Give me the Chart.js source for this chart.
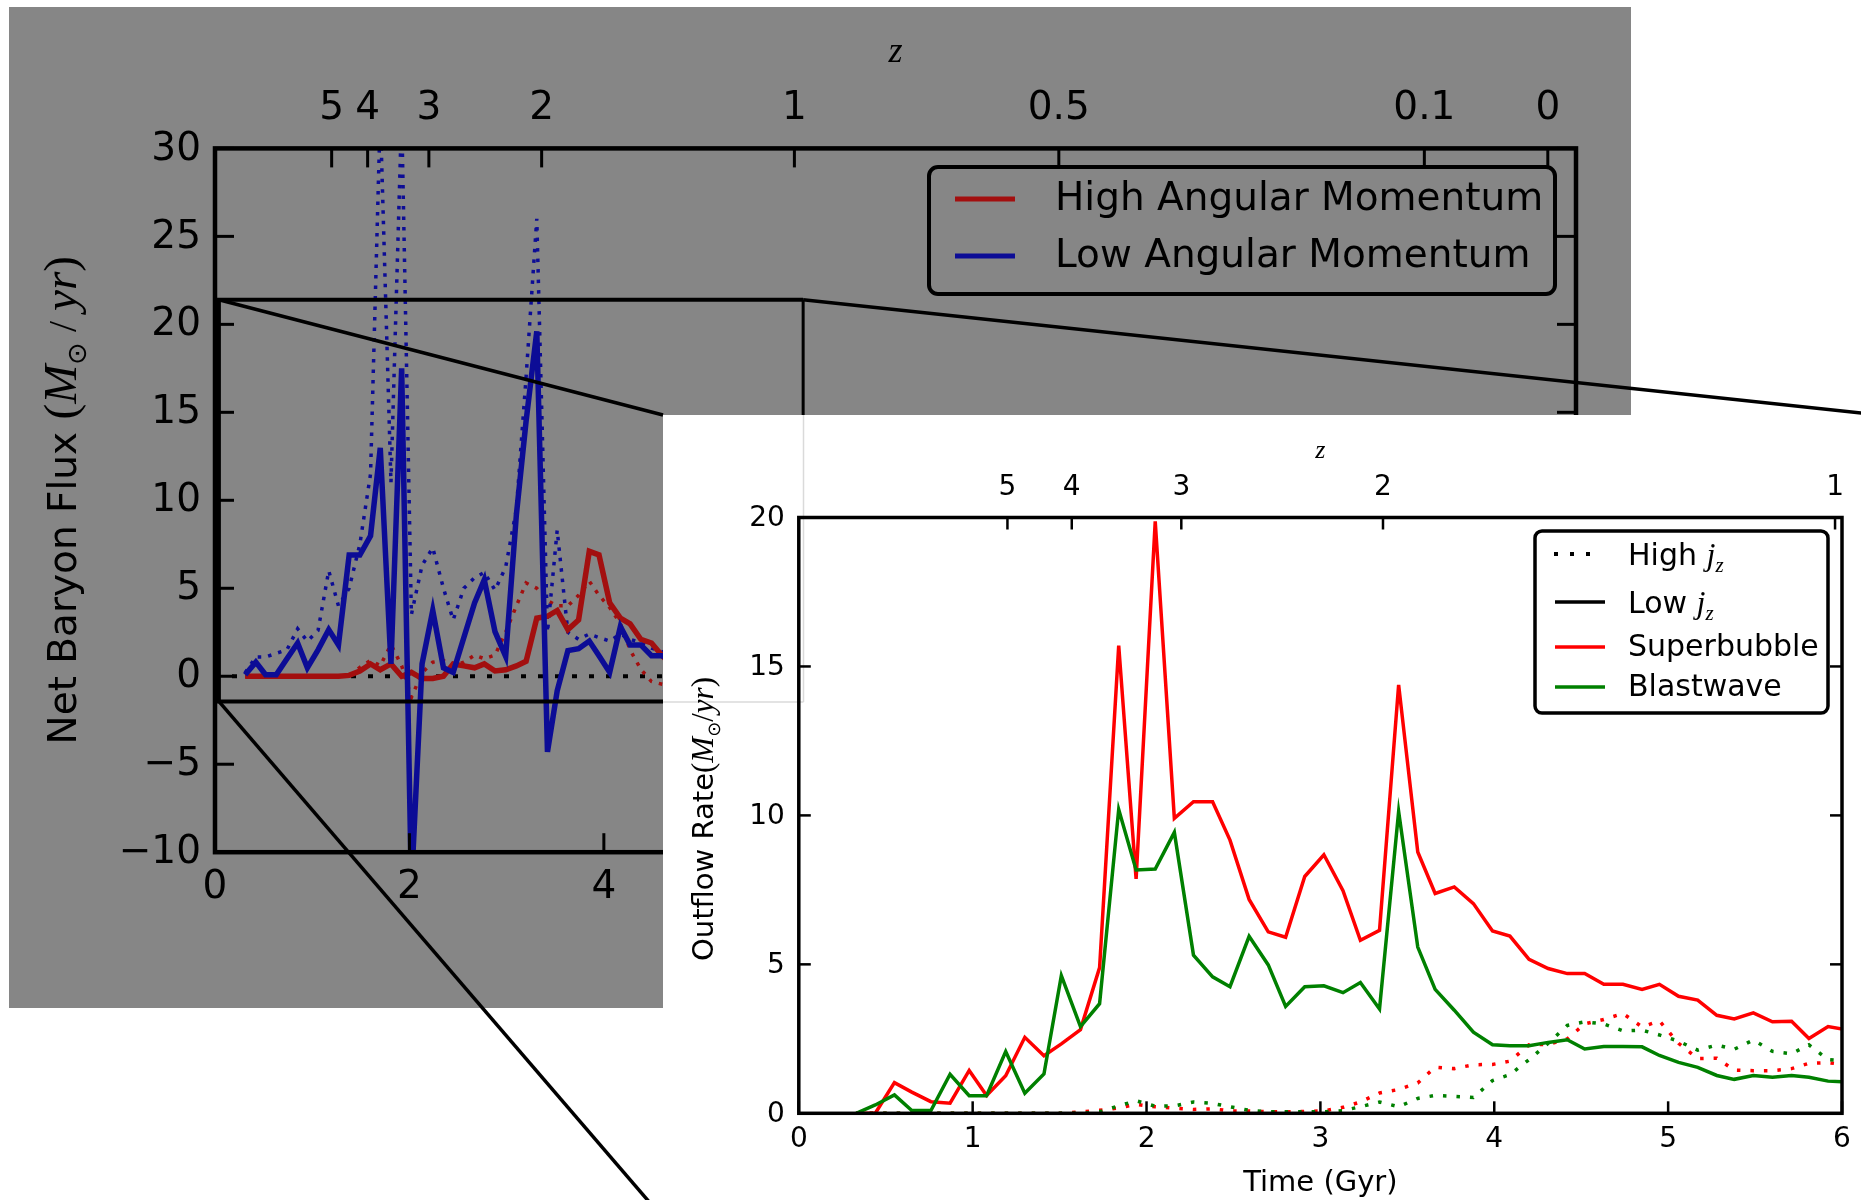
<!DOCTYPE html>
<html><head><meta charset="utf-8">
<script src="https://cdn.jsdelivr.net/npm/chart.js@4.4.1/dist/chart.umd.min.js"></script>
<style>
html,body{margin:0;padding:0;background:#fff;}
body{width:1861px;height:1200px;position:relative;overflow:hidden;}
#mainWrap{position:absolute;left:0;top:0;width:1861px;height:1200px;}
#insetWrap{position:absolute;left:663px;top:415px;width:1198px;height:785px;background:#fff;}
canvas{display:block;}
</style></head><body>
<div id="mainWrap"><canvas id="mainChart" width="1861" height="1200"></canvas></div>
<div id="insetWrap"><canvas id="insetChart" width="1198" height="785"></canvas></div>
<script>
// ---------------- DATA ----------------
// redshift axis (shared)
const zLabels = ['5','4','3','2','1','0.5','0.1','0'];
const zTimes  = [1.20, 1.57, 2.20, 3.36, 5.96, 8.68, 12.44, 13.71];

// main (background) chart: Net Baryon Flux
const mainYTicks = [30, 25, 20, 15, 10, 5, 0, -5, -10];
const mainXTicks = [0, 2, 4, 6, 8, 10, 12, 14];
const mainTime = [0.31,0.42,0.52,0.63,0.74,0.85,0.95,1.06,1.17,1.27,1.38,1.49,1.60,1.70,1.81,1.92,2.02,2.13,2.24,2.35,2.45,2.56,2.67,2.77,2.88,2.99,3.10,3.20,3.31,3.42,3.52,3.63,3.74,3.85,3.95,4.06,4.17,4.27,4.38,4.49,4.60,4.70];
const lowSolid  = [0.09,0.8,0.09,0.09,1.0,1.89,0.48,1.5,2.65,1.78,6.89,6.89,7.98,12.98,0.7,17.5,-12,0.7,3.74,0.48,0.22,2.2,4.17,5.48,2.54,1.13,9.17,14.5,19.6,-4.3,-0.83,1.46,1.57,2.0,1.17,0.22,2.83,1.78,1.78,1.17,1.17,0.9];
const lowDotted = [0.2,1.1,1.1,1.3,1.5,2.7,2.0,2.6,6.0,4.0,5.0,7.5,11.5,32,11,32,3.5,6.3,7.3,5.0,3.2,5.0,5.6,5.9,4.9,6.2,9.5,17,26,2.5,8.3,2.5,2.1,2.4,2.2,2.0,2.4,2.1,1.9,1.6,1.4,1.2];
const highSolid = [0,0,0,0,0,0,0,0,0,0,0.05,0.3,0.7,0.37,0.7,0,0.22,-0.13,-0.13,0,0.7,0.59,0.48,0.7,0.3,0.37,0.59,0.85,3.3,3.41,3.74,2.65,3.2,7.1,6.9,4.17,3.3,2.98,2.1,1.89,1.17,0.6];
const highDotted= [0,0,0,0,0,0,0,0,0,0,0,0.5,0.9,0.6,1.8,0.6,-1.2,0.2,0.8,0.9,0.6,0.8,1.2,1.0,1.2,2.5,4.0,5.3,5.0,4.3,4.0,4.0,4.6,5.4,4.6,3.9,3.0,1.5,0.4,-0.3,-0.45,-0.5];
const zeroLineX = [0, 14];
const zeroLineY = [0, 0];

// inset chart: Outflow Rate
const insetYTicks = [0, 5, 10, 15, 20];
const insetXTicks = [0, 1, 2, 3, 4, 5, 6];
const insetTime = [0.33,0.44,0.55,0.65,0.76,0.87,0.98,1.08,1.19,1.30,1.41,1.51,1.62,1.73,1.84,1.94,2.05,2.16,2.27,2.38,2.48,2.59,2.70,2.80,2.91,3.02,3.13,3.23,3.34,3.45,3.56,3.66,3.77,3.88,3.99,4.09,4.20,4.31,4.42,4.52,4.63,4.74,4.85,4.95,5.06,5.17,5.28,5.38,5.49,5.60,5.71,5.81,5.92,6.03];
const superbubbleLow = [0,0,1.03,0.71,0.39,0.34,1.44,0.6,1.26,2.55,1.93,2.33,2.81,4.89,15.7,7.87,19.87,9.9,10.46,10.46,9.17,7.18,6.09,5.91,7.95,8.68,7.47,5.81,6.14,14.38,8.77,7.38,7.6,7.04,6.12,5.95,5.17,4.86,4.69,4.69,4.33,4.33,4.16,4.33,3.93,3.8,3.29,3.17,3.37,3.07,3.09,2.51,2.91,2.8];
const blastwaveLow   = [0,0.28,0.62,0.09,0.09,1.31,0.59,0.59,2.07,0.67,1.32,4.62,2.91,3.68,10.2,8.17,8.2,9.43,5.31,4.58,4.25,5.94,4.98,3.59,4.25,4.28,4.05,4.39,3.5,10.13,5.58,4.16,3.46,2.72,2.3,2.27,2.27,2.38,2.47,2.16,2.24,2.24,2.23,1.94,1.71,1.54,1.27,1.14,1.27,1.21,1.27,1.21,1.08,1.05];
const superbubbleHigh= [0,0,0,0,0,0,0,0,0,0,0,0,0.05,0.1,0.18,0.3,0.22,0.17,0.13,0.15,0.08,0.08,0.05,0.05,0.06,0.08,0.2,0.38,0.68,0.8,1.02,1.55,1.5,1.63,1.64,1.75,2.3,2.31,2.5,3.0,3.15,3.35,2.9,3.1,2.35,1.84,1.85,1.45,1.43,1.43,1.5,1.68,1.7,1.62];
const blastwaveHigh  = [0,0,0,0,0,0,0,0,0,0,0,0,0,0.05,0.25,0.42,0.24,0.25,0.38,0.33,0.22,0.1,0.05,0.05,0.05,0.05,0.09,0.22,0.38,0.22,0.5,0.6,0.57,0.53,1.1,1.3,1.8,2.35,2.95,3.07,3.0,2.77,2.79,2.63,2.42,2.12,2.29,2.15,2.46,2.08,2.0,2.3,1.8,1.75];

// zoom region of the inset, in main-chart data units
const zoomBox = {x0: 0.04, x1: 6.05, y0: -1.43, y1: 21.4};

// ---------------- STYLE / LAYOUT ----------------
const W = 1861, H = 1200;
const GRAY = '#868686';
const MAIN_RED = '#a30f0f', MAIN_BLUE = '#0c0c96';
const SB_RED = '#ff0000', BW_GREEN = '#008000';
const MAIN_AREA = {left: 215, top: 148.4, right: 1576, bottom: 852.2};
const INSET_W = 1198, INSET_H = 785;
const INSET_AREA = {left: 135.8, top: 102.5, right: 1179, bottom: 698.3};
const INSET_CORNERS = {tl: [663, 415], tr: [1880, 415], bl: [663, 1218]};

function pts(xs, ys){ return xs.map((x, i) => ({x: x, y: ys[i]})); }
function seg(c, x1, y1, x2, y2){ c.beginPath(); c.moveTo(x1, y1); c.lineTo(x2, y2); c.stroke(); }
function txt(c, t, x, y, font, align, base){
  c.save(); c.font = font; c.textAlign = align; c.textBaseline = base; c.fillStyle = '#000'; c.fillText(t, x, y); c.restore();
}
function rich(c, segs, x, y, opt){
  opt = opt || {};
  c.save(); c.translate(x, y); if (opt.rot) c.rotate(opt.rot);
  c.textAlign = 'left'; c.textBaseline = 'alphabetic'; c.fillStyle = '#000';
  let w = 0; segs.forEach(s => { c.font = s.f; w += c.measureText(s.t).width; });
  let cx = opt.align === 'left' ? 0 : -w / 2;
  segs.forEach(s => { c.font = s.f; c.fillText(s.t, cx, (opt.base || 0) + (s.dy || 0)); cx += c.measureText(s.t).width; });
  c.restore();
}
function fmt(v){ return v < 0 ? '\u2212' + Math.abs(v) : String(v); }

// ---------------- MAIN CHART ----------------
const MAIN_TICK_FONT = '39px "DejaVu Sans"';
const mainDecor = {
  id: 'mainDecor',
  beforeDraw(chart){
    const c = chart.ctx;
    c.save(); c.fillStyle = '#fff'; c.fillRect(0, 0, chart.width, chart.height);
    c.fillStyle = GRAY; c.fillRect(9, 7, 1622, 1001); c.restore();
  },
  afterDatasetsDraw(chart){
    const c = chart.ctx, xs = chart.scales.x, ys = chart.scales.y, a = chart.chartArea;
    c.save(); c.strokeStyle = '#000'; c.lineCap = 'butt';
    c.lineWidth = 3;
    mainYTicks.forEach(v => {
      const p = ys.getPixelForValue(v);
      seg(c, a.left, p, a.left + 19, p); seg(c, a.right, p, a.right - 19, p);
      txt(c, fmt(v), a.left - 14, p + 1, MAIN_TICK_FONT, 'right', 'middle');
    });
    mainXTicks.forEach(v => {
      const p = xs.getPixelForValue(v);
      seg(c, p, a.bottom, p, a.bottom - 19);
      txt(c, String(v), p, a.bottom + 36, MAIN_TICK_FONT, 'center', 'middle');
    });
    zTimes.forEach((t, i) => {
      const p = xs.getPixelForValue(t);
      seg(c, p, a.top, p, a.top + 19);
      txt(c, zLabels[i], p, a.top - 40, MAIN_TICK_FONT, 'center', 'middle');
    });
    c.lineWidth = 4.5; c.strokeRect(a.left, a.top, a.right - a.left, a.bottom - a.top);
    // axis titles
    txt(c, 'z', (a.left + a.right) / 2, 53, 'italic 36px "Liberation Serif"', 'center', 'middle');
    rich(c, [
      {t: 'Net Baryon Flux ', f: '39px "DejaVu Sans"'},
      {t: '(', f: '47px "Liberation Serif"'},
      {t: 'M', f: 'italic 47px "Liberation Serif"'},
      {t: '\u2299', f: '27px "DejaVu Sans"', dy: 10},
      {t: ' / ', f: '40px "Liberation Serif"'},
      {t: 'yr', f: 'italic 47px "Liberation Serif"'},
      {t: ')', f: '47px "Liberation Serif"'}
    ], 62, (a.top + a.bottom) / 2, {rot: -Math.PI / 2, base: 14});
    // legend
    const L = {x: 929, y: 167, w: 626, h: 127};
    c.beginPath(); c.roundRect(L.x, L.y, L.w, L.h, 9); c.fillStyle = GRAY; c.fill();
    c.lineWidth = 4; c.strokeStyle = '#000'; c.stroke();
    const items = [{label: 'High Angular Momentum', color: MAIN_RED, y: 199}, {label: 'Low Angular Momentum', color: MAIN_BLUE, y: 256}];
    items.forEach(it => {
      c.strokeStyle = it.color; c.lineWidth = 5; seg(c, 955, it.y, 1015, it.y);
      txt(c, it.label, 1055, it.y + 1, '39px "DejaVu Sans"', 'left', 'middle');
    });
    c.restore();
  },
  afterDraw(chart){
    const c = chart.ctx, xs = chart.scales.x, ys = chart.scales.y;
    const L = xs.getPixelForValue(zoomBox.x0), R = xs.getPixelForValue(zoomBox.x1);
    const T = ys.getPixelForValue(zoomBox.y1), B = ys.getPixelForValue(zoomBox.y0);
    c.save(); c.strokeStyle = '#000'; c.lineCap = 'butt';
    c.lineWidth = 4;
    seg(c, L - 2, T, R, T); seg(c, L, T, L, B); seg(c, L - 2, B, R, B);
    c.lineWidth = 3; seg(c, R, T, R, B);
    c.lineWidth = 3.5;
    seg(c, L, T, INSET_CORNERS.tl[0], INSET_CORNERS.tl[1]);
    seg(c, R, T, INSET_CORNERS.tr[0], INSET_CORNERS.tr[1]);
    seg(c, L, B, INSET_CORNERS.bl[0], INSET_CORNERS.bl[1]);
    c.restore();
  }
};

new Chart(document.getElementById('mainChart'), {
  type: 'line',
  data: {datasets: [
    {data: pts(mainTime, lowSolid), borderColor: MAIN_BLUE, borderWidth: 5.5},
    {data: pts(mainTime, highSolid), borderColor: MAIN_RED, borderWidth: 5.5},
    {data: pts(mainTime, lowDotted), borderColor: MAIN_BLUE, borderWidth: 3.5, borderDash: [3.5, 7]},
    {data: pts(mainTime, highDotted), borderColor: MAIN_RED, borderWidth: 3.5, borderDash: [3.5, 7]},
    {data: pts(zeroLineX, zeroLineY), borderColor: '#000', borderWidth: 4, borderDash: [5, 12]}
  ].map(d => Object.assign({pointRadius: 0, tension: 0, fill: false}, d))},
  options: {
    responsive: false, animation: false, devicePixelRatio: 1,
    layout: {padding: {left: MAIN_AREA.left, top: MAIN_AREA.top, right: W - MAIN_AREA.right, bottom: H - MAIN_AREA.bottom}},
    plugins: {legend: {display: false}, tooltip: {enabled: false}},
    scales: {
      x: {type: 'linear', min: 0, max: 14, display: false},
      y: {type: 'linear', min: -10, max: 30, display: false}
    }
  },
  plugins: [mainDecor]
});

// ---------------- INSET CHART ----------------
const IN_TICK_FONT = '28px "DejaVu Sans"';
const insetDecor = {
  id: 'insetDecor',
  beforeDraw(chart){
    const c = chart.ctx;
    c.save(); c.fillStyle = '#fff'; c.fillRect(0, 0, chart.width, chart.height);
    // faint bleed of the zoom box edges
    c.strokeStyle = '#dadada'; c.lineWidth = 1.5;
    seg(c, 140.5, 0, 140.5, 287); seg(c, 0, 287, 140.5, 287);
    c.restore();
  },
  afterDatasetsDraw(chart){
    const c = chart.ctx, xs = chart.scales.x, ys = chart.scales.y, a = chart.chartArea;
    c.save(); c.strokeStyle = '#000'; c.lineWidth = 2.5;
    insetYTicks.forEach(v => {
      const p = ys.getPixelForValue(v);
      seg(c, a.left, p, a.left + 12, p); seg(c, a.right, p, a.right - 12, p);
      txt(c, String(v), a.left - 14, p + 1, IN_TICK_FONT, 'right', 'middle');
    });
    insetXTicks.forEach(v => {
      const p = xs.getPixelForValue(v);
      seg(c, p, a.bottom, p, a.bottom - 12);
      txt(c, String(v), p, a.bottom + 26, IN_TICK_FONT, 'center', 'middle');
    });
    zTimes.forEach((t, i) => {
      if (t > 6) return;
      const p = xs.getPixelForValue(t);
      seg(c, p, a.top, p, a.top + 12);
      txt(c, zLabels[i], p, a.top - 30, IN_TICK_FONT, 'center', 'middle');
    });
    c.lineWidth = 3.5; c.strokeRect(a.left, a.top, a.right - a.left, a.bottom - a.top);
    // titles
    const cx = (a.left + a.right) / 2;
    txt(c, 'z', cx, 36, 'italic 26px "Liberation Serif"', 'center', 'middle');
    txt(c, 'Time (Gyr)', cx, 768, '29px "DejaVu Sans"', 'center', 'middle');
    rich(c, [
      {t: 'Outflow Rate', f: '29px "DejaVu Sans"'},
      {t: '(', f: '31px "Liberation Serif"'},
      {t: 'M', f: 'italic 31px "Liberation Serif"'},
      {t: '\u2299', f: '18px "DejaVu Sans"', dy: 7},
      {t: '/', f: '31px "Liberation Serif"'},
      {t: 'yr', f: 'italic 31px "Liberation Serif"'},
      {t: ')', f: '31px "Liberation Serif"'}
    ], 39.6, 404, {rot: -Math.PI / 2, base: 10});
    // legend
    c.beginPath(); c.roundRect(872, 116, 293, 182, 7); c.fillStyle = '#fff'; c.fill();
    c.lineWidth = 3.5; c.strokeStyle = '#000'; c.stroke();
    c.fillStyle = '#000';
    [893, 909, 925].forEach(x => c.fillRect(x - 2, 139 - 2, 4, 4));
    c.lineWidth = 3.5;
    c.strokeStyle = '#000'; seg(c, 892, 187, 942, 187);
    c.strokeStyle = SB_RED; seg(c, 892, 232, 942, 232);
    c.strokeStyle = BW_GREEN; seg(c, 892, 272, 942, 272);
    const jz = (label, y) => rich(c, [
      {t: label, f: '30px "DejaVu Sans"'},
      {t: 'j', f: 'italic 32px "Liberation Serif"'},
      {t: 'z', f: 'italic 21px "Liberation Serif"', dy: 7}
    ], 965, y, {align: 'left', base: 0});
    jz('High ', 139 + 11);
    jz('Low ', 187 + 11);
    txt(c, 'Superbubble', 965, 233, '30px "DejaVu Sans"', 'left', 'middle');
    txt(c, 'Blastwave', 965, 273, '30px "DejaVu Sans"', 'left', 'middle');
    c.restore();
  }
};

new Chart(document.getElementById('insetChart'), {
  type: 'line',
  data: {datasets: [
    {data: pts(insetTime, blastwaveLow), borderColor: BW_GREEN, borderWidth: 3.5},
    {data: pts(insetTime, superbubbleLow), borderColor: SB_RED, borderWidth: 3.5},
    {data: pts(insetTime, blastwaveHigh), borderColor: BW_GREEN, borderWidth: 3.5, borderDash: [3.5, 10]},
    {data: pts(insetTime, superbubbleHigh), borderColor: SB_RED, borderWidth: 3.5, borderDash: [3.5, 10]}
  ].map(d => Object.assign({pointRadius: 0, tension: 0, fill: false}, d))},
  options: {
    responsive: false, animation: false, devicePixelRatio: 1,
    layout: {padding: {left: INSET_AREA.left, top: INSET_AREA.top, right: INSET_W - INSET_AREA.right, bottom: INSET_H - INSET_AREA.bottom}},
    plugins: {legend: {display: false}, tooltip: {enabled: false}},
    scales: {
      x: {type: 'linear', min: 0, max: 6, display: false},
      y: {type: 'linear', min: 0, max: 20, display: false}
    }
  },
  plugins: [insetDecor]
});
</script>
</body></html>
